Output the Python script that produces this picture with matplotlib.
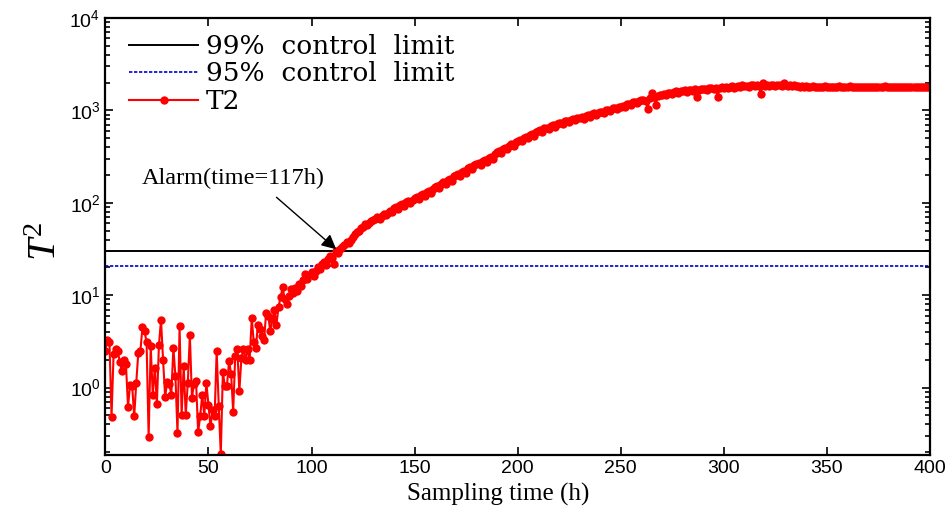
import math
import matplotlib
matplotlib.use('Agg')
import matplotlib.pyplot as plt
from matplotlib.ticker import FuncFormatter, LogLocator

# T2 statistic, one sample per hour (t = 0..400)
t2_values = [
    2.5, 3.3, 3.1, 0.48, 2.3, 2.65, 2.5, 1.9, 1.5, 2.0,
    1.8, 0.62, 1.07, 1.05, 0.49, 1.13, 2.4, 2.5, 4.5, 4.1,
    3.1, 0.29, 2.8, 0.84, 1.65, 0.67, 2.9, 5.4, 2.0, 0.8,
    1.14, 1.1, 0.84, 2.7, 1.33, 0.32, 4.6, 0.51, 1.7, 0.51,
    1.13, 3.7, 0.78, 1.1, 1.17, 0.33, 0.49, 0.84, 0.49, 1.13,
    0.65, 0.38, 0.57, 0.49, 2.5, 0.64, 0.19, 1.47, 1.03, 1.05,
    1.93, 1.42, 0.55, 2.2, 2.6, 0.91, 2.1, 2.65, 2.0, 2.6,
    2.0, 5.6, 3.1, 2.7, 4.8, 4.3, 3.6, 3.3, 6.5, 6.0,
    4.1, 5.5, 6.9, 4.8, 7.5, 9.5, 12.2, 9.0, 8.0, 9.8,
    11.6, 10.5, 12.0, 11.0, 13.2, 12.5, 14.5, 16.9, 15.0, 16.5,
    17.8, 16.0, 18.5, 20.0, 19.0, 21.5, 23.0, 21.0, 24.5, 26.5,
    25.0, 21.7, 30.0, 28.5, 31.5, 33.0, 35.0, 38.0, 36.5, 40.0,
    43, 46, 48, 50, 53, 55, 59, 57, 61, 63,
    65, 67, 70, 66, 72, 75, 73, 78, 82, 79,
    87, 90, 86, 94, 97, 93, 101, 104, 99, 108,
    112, 115, 110, 121, 125, 119, 131, 135, 128, 142,
    148, 152, 146, 160, 166, 158, 175, 181, 172, 193,
    200, 206, 197, 214, 222, 212, 236, 241, 230, 255,
    263, 270, 259, 282, 290, 276, 305, 312, 298, 335,
    350, 360, 345, 382, 395, 378, 415, 430, 410, 455,
    470, 482, 463, 505, 515, 498, 540, 552, 530, 585,
    600, 612, 590, 640, 652, 628, 675, 688, 660, 712,
    725, 738, 712, 760, 772, 745, 795, 805, 778, 820,
    830, 845, 815, 870, 885, 850, 910, 925, 890, 945,
    955, 970, 935, 1000, 1020, 985, 1050, 1070, 1030, 1090,
    1100, 1120, 1080, 1160, 1185, 1140, 1220, 1240, 1195, 1270,
    1290, 1310, 1265, 1040, 1370, 1530, 1410, 1150, 1440, 1470,
    1480, 1500, 1455, 1540, 1560, 1520, 1580, 1600, 1560, 1610,
    1620, 1640, 1590, 1660, 1680, 1630, 1690, 1380, 1670, 1710,
    1700, 1720, 1680, 1740, 1760, 1700, 1750, 1400, 1730, 1770,
    1740, 1780, 1750, 1800, 1830, 1760, 1810, 1850, 1790, 1900,
    1820, 1840, 1800, 1860, 1880, 1830, 1870, 1850, 1500, 1960,
    1840, 1860, 1820, 1870, 1890, 1840, 1880, 1860, 1830, 1980,
    1870, 1850, 1880, 1830, 1860, 1820, 1850, 1810, 1840, 1800,
    1830, 1810, 1790, 1820, 1800, 1780, 1810, 1790, 1800, 1820,
    1790, 1800, 1780, 1810, 1790, 1800, 1820, 1790, 1810, 1770,
    1800, 1820, 1790, 1800, 1810, 1780, 1800, 1790, 1810, 1800,
    1790, 1810, 1800, 1780, 1800, 1810, 1790, 1800, 1820, 1790,
    1800, 1810, 1790, 1800, 1800, 1790, 1810, 1800, 1790, 1800,
    1810, 1800, 1790, 1800, 1810, 1800, 1790, 1800, 1800, 1810,
    1800,
]
hours = list(range(len(t2_values)))

limit_99 = 30.0
limit_95 = 20.5
alarm_time = 113
alarm_label = 'Alarm(time=117h)'

x_ticks = [0, 50, 100, 150, 200, 250, 300, 350, 400]

plt.rcParams['font.family'] = 'Liberation Sans'
plt.rcParams['mathtext.fontset'] = 'custom'
plt.rcParams['mathtext.rm'] = 'Liberation Serif'
plt.rcParams['mathtext.it'] = 'Liberation Serif:italic'
plt.rcParams['mathtext.sf'] = 'Liberation Sans'

fig = plt.figure(figsize=(9.49, 5.12), dpi=100)
ax = fig.add_axes([0.111, 0.111, 0.869, 0.854])

ax.axhline(limit_99, color='black', lw=1.4, label='99%  control  limit')
ax.axhline(limit_95, color='#0000cc', lw=1.2, ls=(0, (2, 1)), label='95%  control  limit')
ax.plot(hours, t2_values, color='#ff0000', lw=1.5, marker='o', markersize=6,
        markeredgewidth=0, label='T2')

ax.set_yscale('log')
ax.set_xlim(0, 400)
ax.set_ylim(0.186, 1e4)
ax.set_xticks(x_ticks)
ax.yaxis.set_major_locator(LogLocator(base=10, numticks=10))
ax.yaxis.set_major_formatter(FuncFormatter(lambda v, p: r'$\mathsf{10^{%d}}$' % round(math.log10(v))))
ax.tick_params(which='both', direction='in', top=True, right=True, labelsize=14, width=1.2)
ax.tick_params(which='major', length=6)
ax.tick_params(which='minor', length=3.5)
ax.tick_params(axis='x', which='minor', bottom=False, top=False)
for s in ax.spines.values():
    s.set_linewidth(1.6)

ax.set_xlabel('Sampling time (h)', family='Liberation Serif', fontsize=18)
ax.xaxis.set_label_coords(0.476, -0.064)
ax.set_ylabel(r'$T^{\mathrm{2}}$', fontsize=29)
ax.yaxis.set_label_coords(-0.05, 0.49)

ax.text(62, 182, alarm_label, family='Liberation Serif', fontsize=17.5, ha='center', va='center')
ax.annotate('', xy=(alarm_time, limit_99), xytext=(82, 120),
            arrowprops=dict(arrowstyle='-|>', color='black', lw=1.0, mutation_scale=22))

ax.legend(loc='upper left', frameon=False, prop={'family': 'DejaVu Serif', 'size': 19},
          handlelength=2.6, handletextpad=0.3, labelspacing=0.1,
          borderaxespad=0.2, bbox_to_anchor=(0.01, 1.0))

fig.savefig('out.png', dpi=100)
